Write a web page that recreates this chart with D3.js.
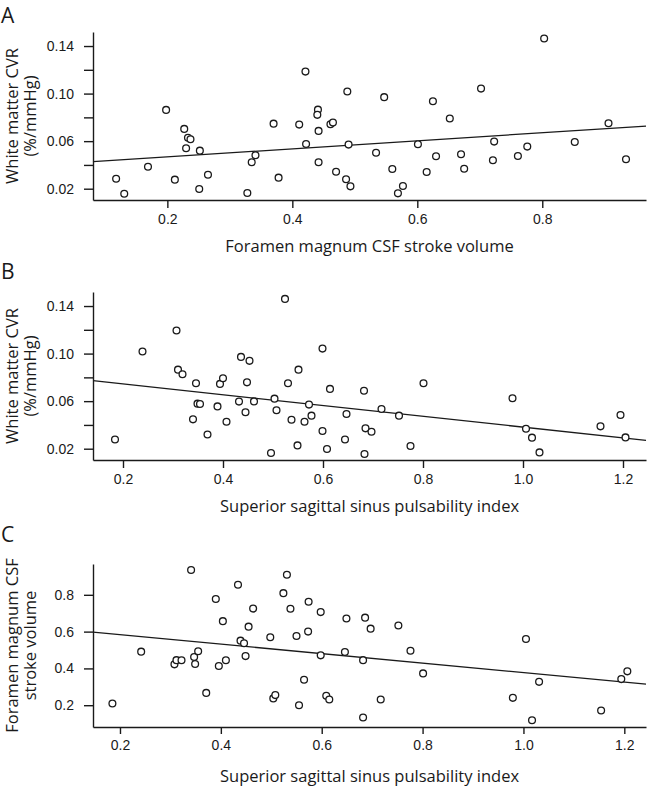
<!DOCTYPE html>
<html>
<head>
<meta charset="utf-8">
<script src="https://cdn.jsdelivr.net/npm/d3@7"></script>
<style>
  html, body { margin: 0; padding: 0; background: #fff; }
  svg { display: block; font-family: "Open Sans", "Noto Sans", sans-serif; }
  .tick text { font-size: 14px; fill: #1a1a1a; }
  .domain, .tick line { stroke: #1a1a1a; stroke-width: 1.4; }
</style>
</head>
<body>
<svg id="chart" width="649" height="788"></svg>
<script>
// ---------- Panel A: Foramen magnum CSF stroke volume vs White matter CVR ----------
const panelA_x = [0.118,0.131,0.169,0.198,0.212,0.227,0.233,0.237,0.230,0.252,0.265,0.251,0.328,0.335,0.341,0.370,0.378,0.411,0.421,0.422,0.441,0.440,0.442,0.442,0.461,0.465,0.470,0.488,0.490,0.486,0.493,0.534,0.547,0.560,0.569,0.577,0.601,0.615,0.625,0.630,0.652,0.670,0.675,0.702,0.721,0.723,0.761,0.776,0.803,0.852,0.906,0.934];
const panelA_y = [0.0284,0.0158,0.0385,0.0863,0.0276,0.0703,0.0629,0.0616,0.0540,0.0520,0.0318,0.0197,0.0164,0.0422,0.0481,0.0747,0.0293,0.0739,0.1185,0.0576,0.0865,0.0821,0.0686,0.0422,0.0742,0.0756,0.0343,0.1017,0.0571,0.0279,0.0220,0.0503,0.0970,0.0366,0.0161,0.0223,0.0574,0.0341,0.0936,0.0473,0.0790,0.0490,0.0368,0.1042,0.0439,0.0596,0.0475,0.0554,0.1463,0.0593,0.0751,0.0448];
const lineA_x = [0.081, 0.966];
const lineA_y = [0.0427, 0.0727];
const ticksA_x = [0.2, 0.4, 0.6, 0.8];
const labelsA_x = ["0.2", "0.4", "0.6", "0.8"];
const ticksA_y = [0.02, 0.04, 0.06, 0.08, 0.10, 0.12, 0.14];
const labelsA_y = ["0.02", "", "0.06", "", "0.10", "", "0.14"];

// ---------- Panel B: Superior sagittal sinus pulsability index vs White matter CVR ----------
const panelB_x = [0.184,0.239,0.307,0.310,0.319,0.346,0.349,0.354,0.340,0.369,0.389,0.394,0.400,0.407,0.432,0.436,0.453,0.445,0.448,0.462,0.496,0.503,0.524,0.507,0.530,0.537,0.549,0.551,0.563,0.572,0.577,0.599,0.599,0.608,0.614,0.644,0.647,0.682,0.685,0.683,0.697,0.717,0.752,0.775,0.801,0.979,1.006,1.018,1.033,1.155,1.195,1.205];
const panelB_y = [0.0278,0.1017,0.1194,0.0865,0.0826,0.0750,0.0579,0.0576,0.0447,0.0320,0.0556,0.0745,0.0792,0.0427,0.0596,0.0972,0.0939,0.0506,0.0758,0.0598,0.0164,0.0621,0.1460,0.0523,0.0750,0.0444,0.0228,0.0865,0.0427,0.0571,0.0478,0.1042,0.0349,0.0197,0.0703,0.0278,0.0492,0.0688,0.0371,0.0155,0.0343,0.0534,0.0478,0.0223,0.0750,0.0624,0.0368,0.0293,0.0169,0.0388,0.0484,0.0295];
const lineB_x = [0.140, 1.246];
const lineB_y = [0.0772, 0.0270];
const ticksB_x = [0.2, 0.4, 0.6, 0.8, 1.0, 1.2];
const labelsB_x = ["0.2", "0.4", "0.6", "0.8", "1.0", "1.2"];
const ticksB_y = [0.02, 0.04, 0.06, 0.08, 0.10, 0.12, 0.14];
const labelsB_y = ["0.02", "", "0.06", "", "0.10", "", "0.14"];

// ---------- Panel C: Superior sagittal sinus pulsability index vs Foramen magnum CSF stroke volume ----------
const panelC_x = [0.185,0.242,0.308,0.312,0.322,0.341,0.347,0.349,0.355,0.371,0.390,0.396,0.404,0.410,0.434,0.439,0.446,0.449,0.455,0.464,0.498,0.504,0.508,0.531,0.524,0.538,0.550,0.555,0.565,0.574,0.573,0.598,0.598,0.609,0.615,0.649,0.646,0.682,0.682,0.686,0.697,0.717,0.752,0.776,0.801,0.979,1.005,1.017,1.031,1.154,1.194,1.206];
const panelC_y = [0.209,0.491,0.422,0.445,0.444,0.935,0.462,0.424,0.493,0.267,0.777,0.413,0.657,0.444,0.855,0.551,0.537,0.467,0.627,0.725,0.569,0.237,0.255,0.909,0.809,0.724,0.576,0.200,0.338,0.762,0.600,0.706,0.471,0.251,0.231,0.671,0.489,0.133,0.445,0.676,0.616,0.231,0.633,0.496,0.373,0.240,0.560,0.118,0.327,0.171,0.342,0.384];
const lineC_x = [0.1465, 1.243];
const lineC_y = [0.597, 0.315];
const ticksC_x = [0.2, 0.4, 0.6, 0.8, 1.0, 1.2];
const labelsC_x = ["0.2", "0.4", "0.6", "0.8", "1.0", "1.2"];
const ticksC_y = [0.2, 0.4, 0.6, 0.8];
const labelsC_y = ["0.2", "0.4", "0.6", "0.8"];

const svg = d3.select("#chart");
const ink = "#1a1a1a";

function drawPanel(cfg) {
  const x = d3.scaleLinear().domain(cfg.xDomain).range([cfg.left, cfg.right]);
  const y = d3.scaleLinear().domain(cfg.yDomain).range([cfg.bottom, cfg.top]);
  const g = svg.append("g");

  const xAxis = d3.axisBottom(x)
    .tickValues(cfg.xTicks)
    .tickFormat((d, i) => cfg.xLabels[i])
    .tickSize(cfg.xTickSize).tickSizeOuter(0).tickPadding(cfg.xTickPad);
  g.append("g").attr("transform", `translate(0,${cfg.bottom})`).call(xAxis);

  const yAxis = d3.axisLeft(y)
    .tickValues(cfg.yTicks)
    .tickFormat((d, i) => cfg.yLabels[i])
    .tickSize(9).tickSizeOuter(0).tickPadding(10);
  g.append("g").attr("transform", `translate(${cfg.left},0)`).call(yAxis);

  const lineData = cfg.lineX.map((v, i) => [v, cfg.lineY[i]]);
  g.append("path")
    .datum(lineData)
    .attr("fill", "none")
    .attr("stroke", ink)
    .attr("stroke-width", 1.3)
    .attr("d", d3.line().x(d => x(d[0])).y(d => y(d[1])));

  const pts = cfg.xs.map((v, i) => [v, cfg.ys[i]]);
  g.append("g").selectAll("circle").data(pts).join("circle")
    .attr("cx", d => x(d[0]))
    .attr("cy", d => y(d[1]))
    .attr("r", 3.4)
    .attr("fill", "#fff")
    .attr("stroke", ink)
    .attr("stroke-width", 1.3);

  g.append("text")
    .attr("x", (cfg.left + cfg.right) / 2)
    .attr("y", cfg.bottom + cfg.xLabelOff)
    .attr("text-anchor", "middle")
    .attr("font-size", 16.5)
    .attr("fill", ink)
    .text(cfg.xTitle);

  const cy = (cfg.top + cfg.bottom) / 2;
  cfg.yTitle.forEach((t, i) => {
    g.append("text")
      .attr("transform", `translate(${cfg.yTitleX[i]},${cy}) rotate(-90)`)
      .attr("text-anchor", "middle")
      .attr("font-size", 16.5)
      .attr("fill", ink)
      .text(t);
  });

  g.append("text")
    .attr("x", 1)
    .attr("y", cfg.letterY)
    .attr("font-size", 21)
    .attr("fill", ink)
    .text(cfg.letter);
}

drawPanel({
  letter: "A", letterY: 22.5,
  xs: panelA_x, ys: panelA_y, lineX: lineA_x, lineY: lineA_y,
  xDomain: [0.081, 0.966], yDomain: [0.0105, 0.1518],
  left: 93, right: 646, top: 32, bottom: 200,
  xTicks: ticksA_x, xLabels: labelsA_x, yTicks: ticksA_y, yLabels: labelsA_y,
  xTickSize: 8, xTickPad: 6, xLabelOff: 52,
  xTitle: "Foramen magnum CSF stroke volume",
  yTitle: ["White matter CVR", "(%/mmHg)"], yTitleX: [18, 35.5]
});

drawPanel({
  letter: "B", letterY: 279,
  xs: panelB_x, ys: panelB_y, lineX: lineB_x, lineY: lineB_y,
  xDomain: [0.140, 1.246], yDomain: [0.0105, 0.1518],
  left: 93, right: 646, top: 292, bottom: 460,
  xTicks: ticksB_x, xLabels: labelsB_x, yTicks: ticksB_y, yLabels: labelsB_y,
  xTickSize: 8, xTickPad: 6, xLabelOff: 52,
  xTitle: "Superior sagittal sinus pulsability index",
  yTitle: ["White matter CVR", "(%/mmHg)"], yTitleX: [18, 35.5]
});

drawPanel({
  letter: "C", letterY: 542,
  xs: panelC_x, ys: panelC_y, lineX: lineC_x, lineY: lineC_y,
  xDomain: [0.1465, 1.243], yDomain: [0.0816, 0.9675],
  left: 93, right: 646, top: 564, bottom: 727,
  xTicks: ticksC_x, xLabels: labelsC_x, yTicks: ticksC_y, yLabels: labelsC_y,
  xTickSize: 7, xTickPad: 6, xLabelOff: 55,
  xTitle: "Superior sagittal sinus pulsability index",
  yTitle: ["Foramen magnum CSF", "stroke volume"], yTitleX: [18, 36]
});
</script>
</body>
</html>
